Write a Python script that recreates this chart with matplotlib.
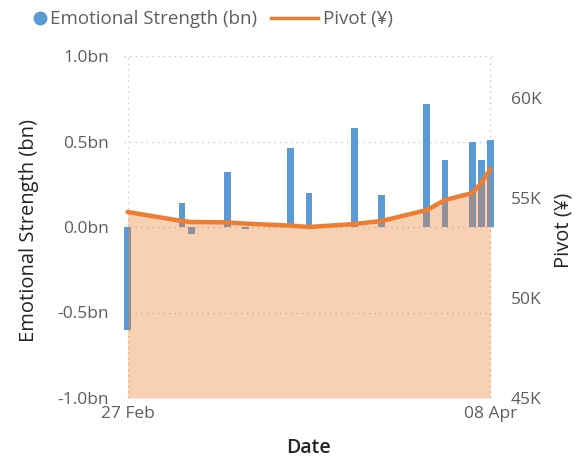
import numpy as np
import pandas as pd
import matplotlib
matplotlib.use("Agg")
import matplotlib.pyplot as plt
import matplotlib.dates as mdates
from matplotlib.lines import Line2D

plt.rcParams['font.family'] = ['Open Sans', 'DejaVu Sans']

# data
day_offsets = [0, 6, 7, 11, 13, 18, 20, 25, 28, 33, 35, 38, 39, 40]
strength_bn = [-0.60, 0.14, -0.04, 0.32, -0.01, 0.46, 0.20, 0.58, 0.19, 0.72, 0.39, 0.50, 0.39, 0.51]
pivot = [54300, 53850, 53800, 53780, 53720, 53620, 53550, 53700, 53850, 54400, 54900, 55250, 55750, 56450]

dates = pd.Timestamp("2023-02-27") + pd.to_timedelta(day_offsets, unit="D")
x_ticks = [pd.Timestamp("2023-02-27"), pd.Timestamp("2023-04-08")]

BLUE = "#5B9BD5"
ORANGE = "#ED7D31"
TICK_C = "#605E5C"
LABEL_C = "#252423"

fig = plt.figure(figsize=(5.77, 4.66), dpi=100)
# plot area: x 124..494 px, y 56..398 px
ax = fig.add_axes([124 / 577, 68 / 466, 370 / 577, 342 / 466])
ax2 = ax.twinx()

ax.bar(dates, strength_bn, width=0.75, color=BLUE, zorder=2)
ax.set_ylim(-1.0, 1.0)
ax.set_yticks([-1.0, -0.5, 0.0, 0.5, 1.0])
ax.set_yticklabels([f"{v:.1f}bn" for v in [-1.0, -0.5, 0.0, 0.5, 1.0]])

ax2.fill_between(dates, pivot, 45000, color=ORANGE, alpha=0.36, linewidth=0, zorder=3)
ax2.plot(dates, pivot, color=ORANGE, lw=3.2, solid_capstyle="round", zorder=4)
ax2.set_ylim(45000, 62100)
ax2.set_yticks([45000, 50000, 55000, 60000])
ax2.set_yticklabels(["45K", "50K", "55K", "60K"])

ax.set_xlim(pd.Timestamp("2023-02-27") - pd.Timedelta(days=0.4),
            pd.Timestamp("2023-04-08") + pd.Timedelta(days=0.4))
ax.set_xticks(x_ticks)
ax.xaxis.set_major_formatter(mdates.DateFormatter("%d %b"))

for a in (ax, ax2):
    for s in a.spines.values():
        s.set_visible(False)
    a.tick_params(length=0, labelsize=12.5, colors=TICK_C)
ax.tick_params(axis="x", pad=6)
ax.tick_params(axis="y", pad=11)
ax2.tick_params(axis="y", pad=12)

ax.grid(True, color="#C8C8C8", linestyle=(0, (1, 3)), linewidth=1)
ax.set_axisbelow(True)

ax.set_xlabel("Date", fontsize=14, color=LABEL_C, fontweight="semibold", labelpad=11.5)
ax.set_ylabel("Emotional Strength (bn)", fontsize=14.5, color=LABEL_C)
ax2.set_ylabel("Pivot (¥)", fontsize=14.5, color=LABEL_C)
ax.yaxis.set_label_coords((39 - 124) / 370, 0.49)
ax2.yaxis.set_label_coords((554 - 124) / 370, 0.49)

# legend: two pieces so the circle and the line can have their own handle lengths
fig.legend([Line2D([], [], marker="o", color=BLUE, linestyle="none", markersize=9)],
           ["Emotional Strength (bn)"], loc="upper left", bbox_to_anchor=(34 / 577, 0.978),
           frameon=False, fontsize=13.5, handlelength=0.6, handletextpad=0.25,
           borderpad=0, borderaxespad=0, labelcolor=TICK_C)
fig.legend([Line2D([], [], color=ORANGE, lw=2.5)], ["Pivot (¥)"], loc="upper left",
           bbox_to_anchor=(271 / 577, 0.978), frameon=False, fontsize=13.5,
           handlelength=2.5, handletextpad=0.25, borderpad=0, borderaxespad=0,
           labelcolor=TICK_C)

fig.savefig("out.png", dpi=100)
